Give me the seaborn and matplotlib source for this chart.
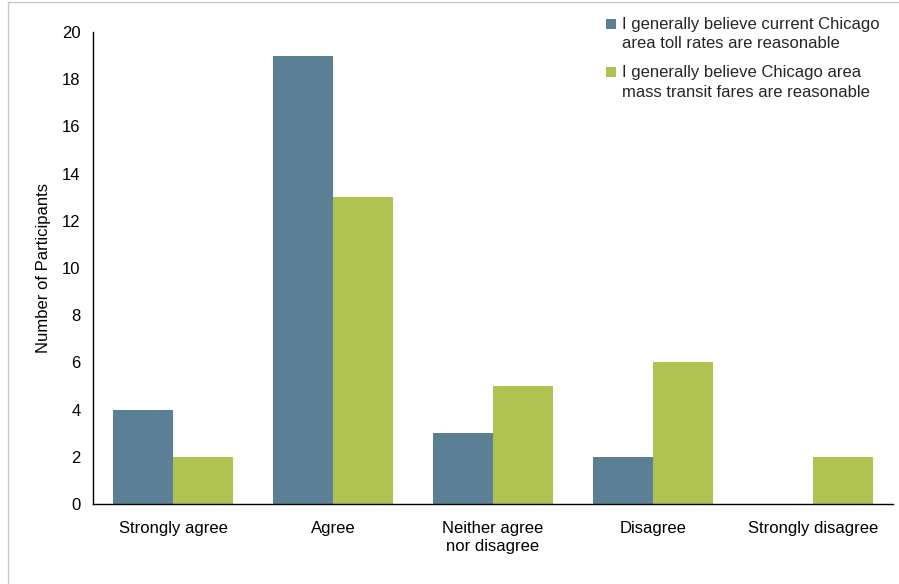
import matplotlib
matplotlib.use("Agg")
import matplotlib.pyplot as plt
import seaborn as sns
import pandas as pd
from matplotlib.patches import Rectangle

categories = ["Strongly agree", "Agree", "Neither agree\nnor disagree", "Disagree", "Strongly disagree"]
toll_values = [4, 19, 3, 2, 0]
transit_values = [2, 13, 5, 6, 2]
series_names = [
    "I generally believe current Chicago\narea toll rates are reasonable",
    "I generally believe Chicago area\nmass transit fares are reasonable",
]
colors = ["#5B7F94", "#B0C350"]

df = pd.DataFrame({
    "Response": categories * 2,
    "Count": toll_values + transit_values,
    "Series": [series_names[0]] * len(categories) + [series_names[1]] * len(categories),
})

sns.set_theme(style="white")
plt.rcParams["font.family"] = ["Liberation Sans", "DejaVu Sans"]

fs = 12
fig = plt.figure(figsize=(8.99, 5.84), dpi=100)
ax = fig.add_axes([93 / 899, 1 - 504 / 584, 800 / 899, 472 / 584])

sns.barplot(data=df, x="Response", y="Count", hue="Series", palette=colors,
            order=categories, hue_order=series_names, width=0.75,
            saturation=1, linewidth=0, ax=ax, legend=True)

ax.set_ylim(0, 20)
ax.set_yticks(range(0, 21, 2))
ax.set_xlim(-0.5, 4.5)
ax.set_xlabel("")
ax.set_ylabel("Number of Participants", fontsize=fs, color="black", labelpad=8)
ax.tick_params(axis="both", length=0, labelsize=fs, colors="black")
ax.tick_params(axis="x", pad=12)
ax.tick_params(axis="y", pad=9)
for lbl in ax.get_xticklabels():
    lbl.set_multialignment("center")
    lbl.set_linespacing(1.3)

for side in ["top", "right"]:
    ax.spines[side].set_visible(False)
for side in ["left", "bottom"]:
    ax.spines[side].set_color("black")
    ax.spines[side].set_linewidth(1.0)

handles, labels = ax.get_legend_handles_labels()
ax.get_legend().remove()
leg = fig.legend(handles, labels, loc="upper left", bbox_to_anchor=(606 / 899, 1 - 17 / 584),
                 frameon=False, fontsize=fs, handlelength=0.6, handleheight=0.6,
                 handletextpad=0.35, labelspacing=0.85, borderaxespad=0, borderpad=0)
for t in leg.get_texts():
    t.set_linespacing(1.35)
# place each colour square beside the first line of its label
for h in leg.legend_handles:
    h.set_y(h.get_y() + 7.5)

# thin outer frame
fig.patches.append(Rectangle((8 / 899, -0.01), 1.0, 1 - 2 / 584 + 0.01,
                             transform=fig.transFigure, fill=False,
                             edgecolor="#C8C8C8", linewidth=1.0))

fig.savefig("out.png", dpi=100)
